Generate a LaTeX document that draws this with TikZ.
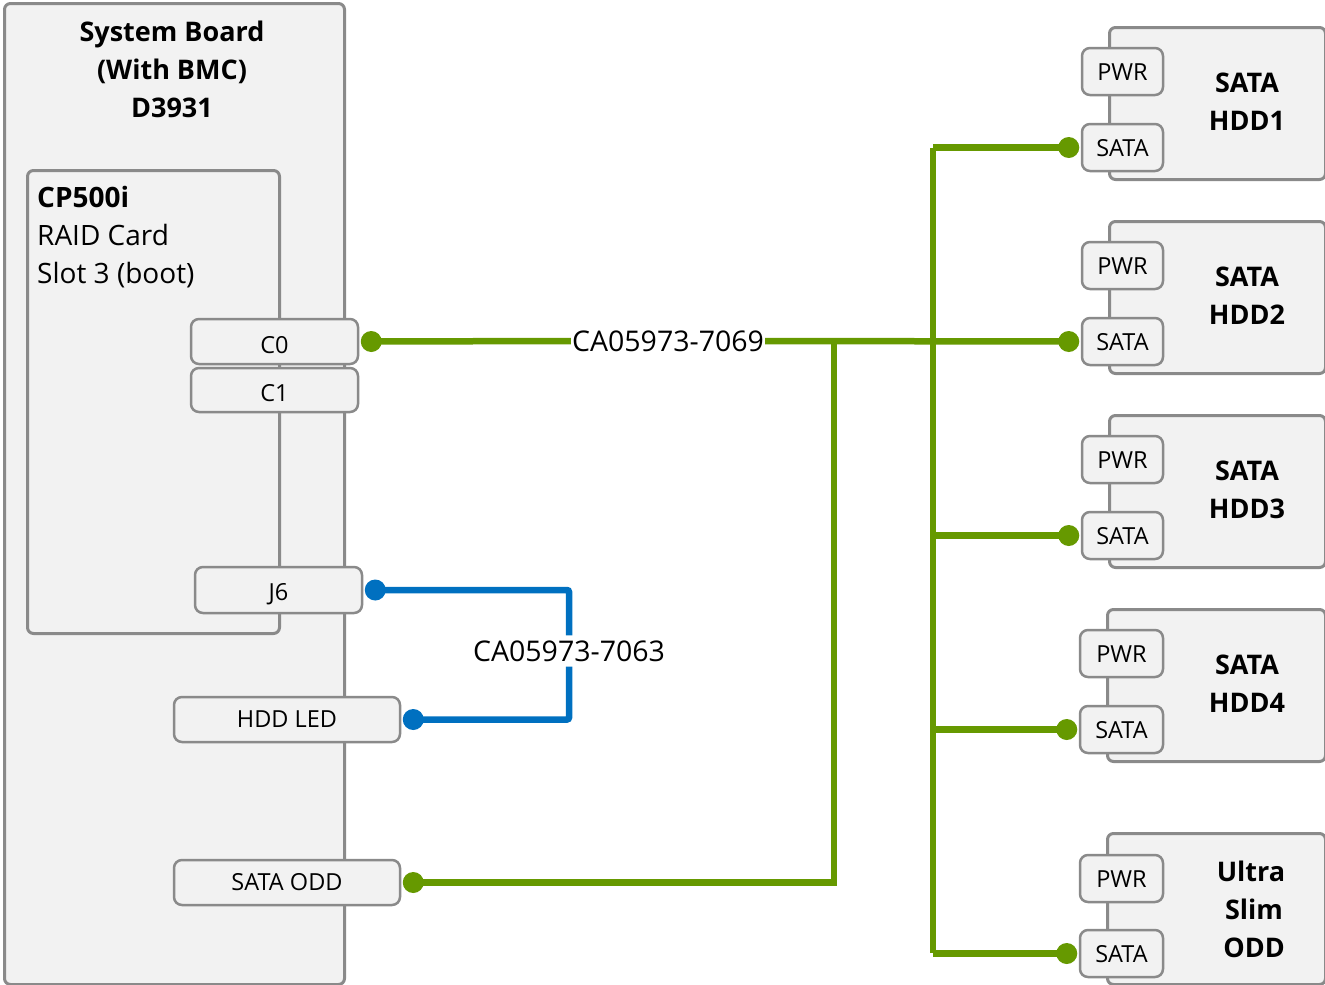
\documentclass[tikz,border=0pt]{standalone}
\usepackage{fontspec}
\setmainfont{Open Sans}
\definecolor{boxfill}{HTML}{F2F2F2}
\definecolor{boxline}{HTML}{8A8A8A}
\definecolor{wgreen}{HTML}{669900}
\definecolor{wblue}{HTML}{0070C0}
\tikzset{
  board/.style={draw=boxline, fill=boxfill, line width=3pt, rounded corners=6pt, inner sep=0pt},
  port/.style={draw=boxline, fill=boxfill, line width=2.5pt, rounded corners=8pt, inner sep=0pt,
    font=\fontsize{23.5}{26}\selectfont},
  plabel/.style={inner sep=0pt, font=\fontsize{23.5}{26}\selectfont},
  title/.style={align=center, font=\fontsize{27}{38}\bfseries\selectfont, inner sep=0pt},
  gw/.style={draw=wgreen, line width=6.5pt},
  bw/.style={draw=wblue, line width=6.5pt},
  gdot/.style={fill=wgreen},
  bdot/.style={fill=wblue},
  cable/.style={fill=white, inner xsep=1pt, inner ysep=5pt, font=\fontsize{28.5}{30}\selectfont},
}
\newcommand{\portbox}[6]{% name, center, width, height, text, label shift
  \node[port, minimum width=#3, minimum height=#4] (#1) at (#2) {};
  \node[plabel] (#1t) at ([yshift=#6]#1.center) {#5};
}
\begin{document}
\begin{tikzpicture}[x=1pt,y=-1pt]
\useasboundingbox (0,0) rectangle (1325,985);
% system board
\node[board, minimum width=340, minimum height=981, anchor=north west] (sb) at (3,2) {};
\node[title] (sbt) at (172,69) {System Board\\(With BMC)\\D3931};
% raid card
\node[board, minimum width=252, minimum height=463, anchor=north west] (raid) at (26,169) {};
\node[anchor=north west, align=left, inner sep=0pt, font=\fontsize{28}{38}\selectfont] (raidt) at (37,186) {\textbf{CP500i}\\RAID Card\\Slot 3 (boot)};
% ports on board
\portbox{c0}{274.5,341.5}{167}{45}{C0}{-4}
\portbox{c1}{274.5,390}{167}{44}{C1}{-3}
\portbox{j6}{278.5,590}{167}{46}{J6}{-4}
\portbox{led}{287,719.5}{226}{45}{HDD LED}{0}
\portbox{odd}{287,882.5}{226}{45}{SATA ODD}{0}
% drives
\foreach \n/\x/\y/\px in {1/1108/26/1082, 2/1108/220/1082, 3/1108/414/1082, 4/1106/608/1080}{
  \node[board, minimum width=1324-\x, minimum height=152, anchor=north west] (hdd\n) at (\x,\y) {};
  \portbox{pwr\n}{{(\px+1163)/2},\y+45.5}{1163-\px}{47}{PWR}{-1}
  \portbox{sata\n}{{(\px+1163)/2},\y+121.5}{1163-\px}{47}{SATA}{-1}
  \node[title] (hddt\n) at (1247,\y+76) {SATA\\HDD\n};
}
\node[board, minimum width=218, minimum height=151, anchor=north west] (uso) at (1106,832) {};
\portbox{pwr5}{1121.5,878.5}{83}{47}{PWR}{-1}
\portbox{sata5}{1121.5,953.5}{83}{47}{SATA}{-1}
\node[title] (usot) at (1254,909) {\hspace*{-6pt}Ultra\\Slim\\ODD};
% dot coordinates
\coordinate (dc0) at ([xshift=12]c0.east);
\coordinate (dodd) at ([xshift=12]odd.east);
\coordinate (dj6) at ([xshift=12]j6.east);
\coordinate (dled) at ([xshift=12]led.east);
\foreach \n in {1,...,5}{ \coordinate (ds\n) at ([xshift=-12]sata\n.west); }
% green cable
\node[cable] (c69) at (668,341) {CA05973-7069};
\coordinate (jA) at (834,341);
\draw[gw] (dc0) -- (c69.west);
\draw[gw] (c69.east) -- (ds2);
\draw[gw] (dodd) -| (jA);
\draw[gw] (933,148) -- (933,953);
\foreach \n in {1,3,4,5}{ \draw[gw] (933,0 |- ds\n) -- (ds\n); }
\foreach \c in {dc0,dodd,ds1,ds2,ds3,ds4,ds5}{ \fill[gdot] (\c) circle (10.5); }
% blue cable
\node[cable, fill=none] (c63) at (569,651) {CA05973-7063};
\draw[bw, rounded corners=2pt] (dj6) -| (c63.north);
\draw[bw, rounded corners=2pt] (c63.south) |- (dled);
\foreach \c in {dj6,dled}{ \fill[bdot] (\c) circle (10.5); }
\end{tikzpicture}
\end{document}
